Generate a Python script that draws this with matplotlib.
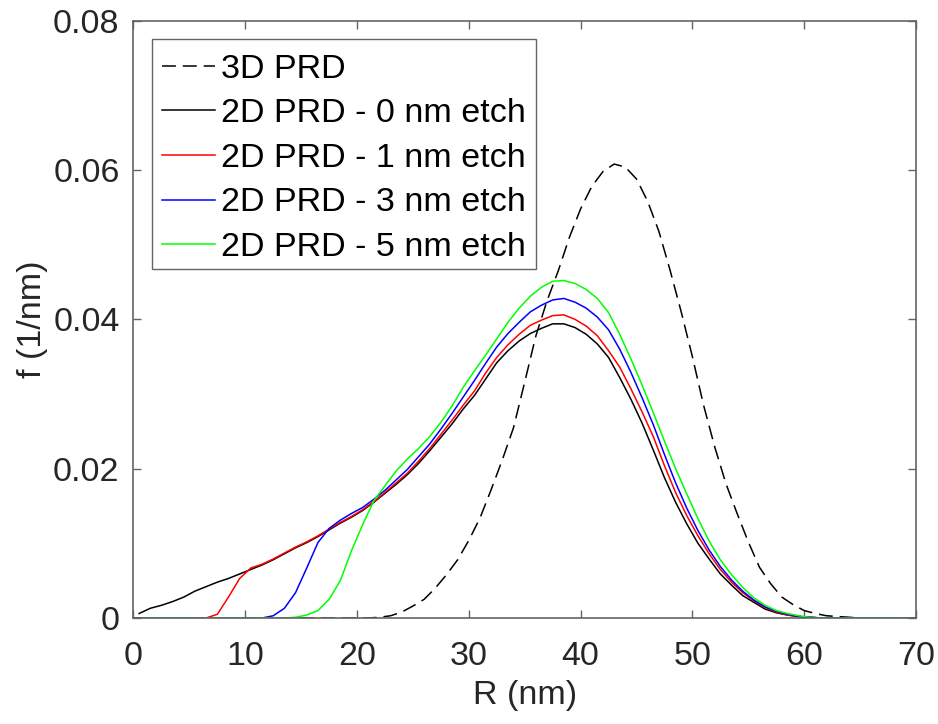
import numpy as np
import matplotlib
matplotlib.use("Agg")
import matplotlib.pyplot as plt
from matplotlib.transforms import ScaledTranslation

# ---------------- data ----------------
R2 = [k + 0.5 for k in range(70)]  # grid for 2D PRD curves (nm)

etch0 = [0.0006, 0.0013, 0.0017, 0.0022, 0.0028, 0.0036, 0.0042, 0.0048, 0.0053, 0.0059,
         0.0065, 0.0071, 0.0078, 0.0086, 0.0094, 0.0101, 0.0109, 0.0118, 0.0127, 0.0135,
         0.0144, 0.0155, 0.0167, 0.0179, 0.0192, 0.0207, 0.0224, 0.0242, 0.0260, 0.0280,
         0.0298, 0.0320, 0.0342, 0.0358, 0.0371, 0.0381, 0.0388, 0.0394, 0.0394, 0.0389,
         0.0380, 0.0367, 0.0349, 0.0322, 0.0293, 0.0261, 0.0225, 0.0188, 0.0155, 0.0126,
         0.0100, 0.0079, 0.0059, 0.0044, 0.0030, 0.0021, 0.0012, 0.0007, 0.0004, 0.0002,
         0.0001, 0.0, 0.0, 0.0, 0.0, 0.0, 0.0, 0.0, 0.0, 0.0]

etch1 = [0.0, 0.0, 0.0, 0.0, 0.0, 0.0, 0.0, 0.0005, 0.0028, 0.0053,
         0.0067, 0.0072, 0.0079, 0.0087, 0.0095, 0.0102, 0.0110, 0.0119, 0.0128, 0.0136,
         0.0145, 0.0156, 0.0168, 0.0181, 0.0194, 0.0210, 0.0227, 0.0246, 0.0265, 0.0285,
         0.0304, 0.0328, 0.0349, 0.0366, 0.0380, 0.0392, 0.0399, 0.0405, 0.0406, 0.0400,
         0.0391, 0.0378, 0.0358, 0.0336, 0.0307, 0.0276, 0.0243, 0.0204, 0.0168, 0.0137,
         0.0110, 0.0086, 0.0065, 0.0048, 0.0034, 0.0023, 0.0014, 0.0008, 0.0004, 0.0002,
         0.0001, 0.0, 0.0, 0.0, 0.0, 0.0, 0.0, 0.0, 0.0, 0.0]

etch3 = [0.0, 0.0, 0.0, 0.0, 0.0, 0.0, 0.0, 0.0, 0.0, 0.0,
         0.0, 0.0, 0.0003, 0.0013, 0.0034, 0.0067, 0.0101, 0.0120, 0.0131, 0.0140,
         0.0148, 0.0159, 0.0171, 0.0185, 0.0199, 0.0216, 0.0233, 0.0253, 0.0274, 0.0296,
         0.0318, 0.0341, 0.0363, 0.0381, 0.0396, 0.0410, 0.0419, 0.0426, 0.0428, 0.0423,
         0.0415, 0.0403, 0.0386, 0.0360, 0.0329, 0.0295, 0.0259, 0.0219, 0.0181, 0.0147,
         0.0117, 0.0091, 0.0069, 0.0051, 0.0036, 0.0024, 0.0015, 0.0009, 0.0005, 0.0002,
         0.0001, 0.0, 0.0, 0.0, 0.0, 0.0, 0.0, 0.0, 0.0, 0.0]

etch5 = [0.0, 0.0, 0.0, 0.0, 0.0, 0.0, 0.0, 0.0, 0.0, 0.0,
         0.0, 0.0, 0.0, 0.0, 0.0001, 0.0004, 0.0010, 0.0025, 0.0050, 0.0090,
         0.0125, 0.0157, 0.0177, 0.0197, 0.0213, 0.0227, 0.0243, 0.0262, 0.0284, 0.0309,
         0.0331, 0.0352, 0.0374, 0.0396, 0.0415, 0.0431, 0.0443, 0.0451, 0.0452, 0.0448,
         0.0440, 0.0428, 0.0409, 0.0380, 0.0347, 0.0312, 0.0275, 0.0237, 0.0200, 0.0166,
         0.0133, 0.0103, 0.0078, 0.0058, 0.0041, 0.0027, 0.0017, 0.0010, 0.0006, 0.0003,
         0.0001, 0.0, 0.0, 0.0, 0.0, 0.0, 0.0, 0.0, 0.0, 0.0]

R3 = list(range(71))  # grid for 3D PRD (nm)
prd3d = [0.0] * 21 + [
    0.0000, 0.0001, 0.0003, 0.0008, 0.0016, 0.0025, 0.0040, 0.0058, 0.0078, 0.0104,
    0.0134, 0.0172, 0.0212, 0.0255, 0.0316, 0.0378, 0.0425, 0.0465, 0.0510, 0.0548,
    0.0578, 0.0598, 0.0608, 0.0604, 0.0588, 0.0558, 0.0518, 0.0466, 0.0410, 0.0350,
    0.0285, 0.0229, 0.0180, 0.0140, 0.0102, 0.0068, 0.0046, 0.0028, 0.0018, 0.0010,
    0.0006, 0.0003, 0.0002, 0.0001, 0.0, 0.0, 0.0, 0.0, 0.0, 0.0]

labels = ["3D PRD", "2D PRD - 0 nm etch", "2D PRD - 1 nm etch",
          "2D PRD - 3 nm etch", "2D PRD - 5 nm etch"]
colors = ["black", "black", "red", "blue", "#00ff00"]

xticks = [0, 10, 20, 30, 40, 50, 60, 70]
yticks = [0, 0.02, 0.04, 0.06, 0.08]
ytick_labels = ["0", "0.02", "0.04", "0.06", "0.08"]

# ---------------- figure ----------------
plt.rcParams['font.family'] = ['Liberation Sans', 'DejaVu Sans']
plt.rcParams['lines.scale_dashes'] = False

fig = plt.figure(figsize=(9.38, 7.24), dpi=100)
ax = fig.add_axes([0.1423, 0.1464, 0.8342, 0.825])

lw = 1.1
ax.plot(R3, prd3d, color=colors[0], lw=lw, dashes=(10, 5), label=labels[0])
ax.plot(R2, etch0, color=colors[1], lw=lw, label=labels[1])
ax.plot(R2, etch1, color=colors[2], lw=lw, label=labels[2])
ax.plot(R2, etch3, color=colors[3], lw=lw, label=labels[3])
ax.plot(R2, etch5, color=colors[4], lw=lw, label=labels[4])

ax.set_xlim(0, 70)
ax.set_ylim(0, 0.08)
ax.set_xticks(xticks)
ax.set_yticks(yticks)
ax.set_yticklabels(ytick_labels)

spine_col = '#646464'
for s in ax.spines.values():
    s.set_color(spine_col)
    s.set_linewidth(1.2)
fs = 24.5
ax.tick_params(direction='in', top=True, right=True, length=6, width=1.0,
               color=spine_col, labelcolor='#262626', labelsize=fs)
ax.tick_params(axis='x', pad=16.5)
ax.tick_params(axis='y', pad=10)

ax.set_xlabel("R (nm)", fontsize=fs, color='#262626', labelpad=6)
ax.set_ylabel("f (1/nm)", fontsize=fs, color='#262626', labelpad=4)

leg = ax.legend(loc='upper left', fontsize=fs, frameon=True, fancybox=False,
                edgecolor=spine_col, framealpha=1, handlelength=1.56,
                handletextpad=0.15, borderpad=0.3, labelspacing=0.4,
                borderaxespad=0.55)
leg.get_frame().set_linewidth(1.0)
# nudge legend rows slightly downward inside the frame
shift = ScaledTranslation(0, -4 / 100, fig.dpi_scale_trans)
for t in leg.get_texts():
    t.set_transform(t.get_transform() + shift)
for h in leg.get_lines():
    h.set_transform(h.get_transform() + shift)

fig.savefig("out.png", dpi=100)
